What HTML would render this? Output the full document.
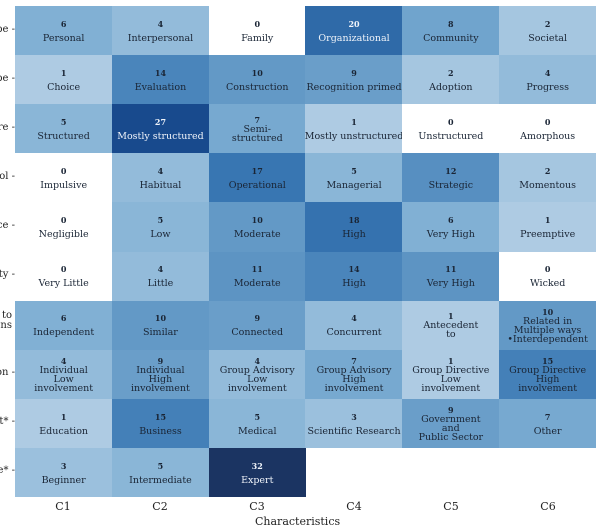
<!DOCTYPE html>
<html><head><meta charset="utf-8">
<style>
body{margin:0;width:600px;height:530px;background:#fff;overflow:hidden;font-family:"DejaVu Serif","Liberation Serif",serif;position:relative}
.c{position:absolute;display:flex;flex-direction:column;align-items:center;justify-content:center;text-align:center;color:#1a2535}
.n{font-size:8px;font-weight:bold;line-height:10px}
.t{font-size:9.5px;line-height:9px;margin-top:3px;white-space:nowrap}
.w{color:#f0f4fa}
.yl{position:absolute;font-size:10px;color:#222;text-align:right;line-height:10px;white-space:nowrap;left:-40px;width:55px}
.xl{position:absolute;font-size:11px;color:#222;top:500px;width:60px;text-align:center}
</style></head><body>
<div id="g"></div>
<div class="yl" style="top:25px">ype -</div>
<div class="yl" style="top:74px">ype -</div>
<div class="yl" style="top:123px">ure -</div>
<div class="yl" style="top:172px">rol -</div>
<div class="yl" style="top:221px">nce -</div>
<div class="yl" style="top:270px">ity -</div>
<div class="yl" style="top:311px;width:52px">to<br>ons</div>
<div class="yl" style="top:368px">ion -</div>
<div class="yl" style="top:417px">xt* -</div>
<div class="yl" style="top:466px">se* -</div>
<div class="xl" style="left:33px">C1</div>
<div class="xl" style="left:130px">C2</div>
<div class="xl" style="left:227px">C3</div>
<div class="xl" style="left:324px">C4</div>
<div class="xl" style="left:421px">C5</div>
<div class="xl" style="left:518px">C6</div>
<div style="position:absolute;top:515px;left:255px;font-size:11px;color:#222">Characteristics</div>
<script>
var D=[
[[6,"Personal"],[4,"Interpersonal"],[0,"Family"],[20,"Organizational"],[8,"Community"],[2,"Societal"]],
[[1,"Choice"],[14,"Evaluation"],[10,"Construction"],[9,"Recognition primed"],[2,"Adoption"],[4,"Progress"]],
[[5,"Structured"],[27,"Mostly structured"],[7,"Semi-<br>structured"],[1,"Mostly unstructured"],[0,"Unstructured"],[0,"Amorphous"]],
[[0,"Impulsive"],[4,"Habitual"],[17,"Operational"],[5,"Managerial"],[12,"Strategic"],[2,"Momentous"]],
[[0,"Negligible"],[5,"Low"],[10,"Moderate"],[18,"High"],[6,"Very High"],[1,"Preemptive"]],
[[0,"Very Little"],[4,"Little"],[11,"Moderate"],[14,"High"],[11,"Very High"],[0,"Wicked"]],
[[6,"Independent"],[10,"Similar"],[9,"Connected"],[4,"Concurrent"],[1,"Antecedent<br>to"],[10,"Related in<br>Multiple ways<br>•Interdependent"]],
[[4,"Individual<br>Low<br>involvement"],[9,"Individual<br>High<br>involvement"],[4,"Group Advisory<br>Low<br>involvement"],[7,"Group Advisory<br>High<br>involvement"],[1,"Group Directive<br>Low<br>involvement"],[15,"Group Directive<br>High<br>involvement"]],
[[1,"Education"],[15,"Business"],[5,"Medical"],[3,"Scientific Research"],[9,"Government<br>and<br>Public Sector"],[7,"Other"]],
[[3,"Beginner"],[5,"Intermediate"],[32,"Expert"],null,null,null]];
var S=[[1,[174,203,227]],[3,[155,192,221]],[5,[138,182,215]],[7,[119,169,208]],[10,[99,153,198]],[14,[74,133,187]],[17,[56,118,178]],[20,[47,106,168]],[27,[24,74,141]],[32,[27,52,98]]];
function col(v){if(v==0)return"#fff";for(var i=0;i<S.length-1;i++){if(v<=S[i+1][0]){var a=S[i],b=S[i+1],f=(v-a[0])/(b[0]-a[0]);return"rgb("+a[1].map(function(x,k){return Math.round(x+(b[1][k]-x)*f)}).join(",")+")";}}return"rgb(27,52,98)";}
var h="",x0=15,y0=6,cw=96.8,rh=49.1;
for(var r=0;r<10;r++)for(var c=0;c<6;c++){var d=D[r][c];if(!d)continue;
var multi=d[1].indexOf("<br>")>=0;
h+='<div class="c'+(d[0]>=20?' w':'')+'" style="left:'+(x0+c*cw)+'px;top:'+(y0+r*rh)+'px;width:'+(cw+0.5)+'px;height:'+(rh+0.5)+'px;background:'+col(d[0])+'"><div class="n">'+d[0]+'</div><div class="t" style="margin-top:'+(multi?0:5)+'px">'+d[1]+'</div></div>';}
document.getElementById("g").innerHTML=h;
</script>
</body></html>
